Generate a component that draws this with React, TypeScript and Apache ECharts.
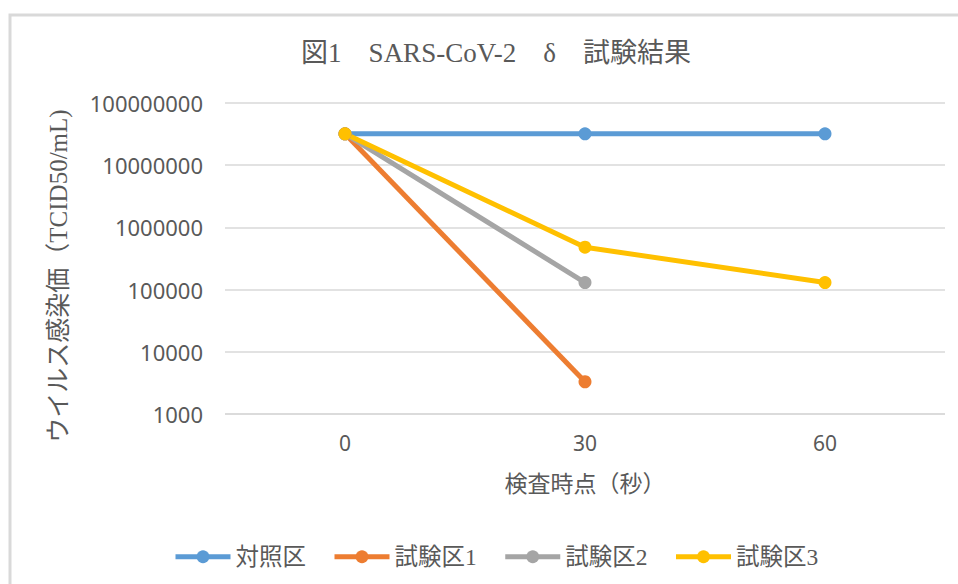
import React, { useEffect, useRef } from "react";
import * as echarts from "echarts";

const categories = ["0", "30", "60"];
const seriesNames = ["対照区", "試験区1", "試験区2", "試験区3"];
const control = [32000000, 32000000, 32000000];
const test1 = [32000000, 3300, null];
const test2 = [32000000, 130000, null];
const test3 = [32000000, 480000, 130000];
const colors = ["#5B9BD5", "#ED7D31", "#A5A5A5", "#FFC000"];

const titleText = "図1　SARS-CoV-2　δ　試験結果";
const yName = "ウイルス感染価（TCID50/mL)";
const xName = "検査時点（秒）";

const SERIF = "'Liberation Serif', 'Noto Sans CJK JP', serif";
const SANS = "'Noto Sans', 'Liberation Sans', sans-serif";
const TXT = "#595959";

export default function App() {
  const ref = useRef<HTMLDivElement>(null);
  useEffect(() => {
    if (!ref.current) return;
    const chart = echarts.init(ref.current, undefined, { renderer: "svg" });
    const data = [control, test1, test2, test3];
    chart.setOption({
      animation: false,
      backgroundColor: "#ffffff",
      graphic: [
        {
          type: "rect",
          shape: { x: 10, y: 15, width: 980, height: 620 },
          style: { fill: "none", stroke: "#d9d9d9", lineWidth: 3 },
          silent: true,
        },
        {
          type: "text",
          x: 58,
          y: 276,
          rotation: Math.PI / 2,
          style: {
            text: yName,
            font: `25px ${SERIF}`,
            fill: TXT,
            align: "center",
            verticalAlign: "middle",
          },
        },
      ],
      title: {
        text: titleText,
        left: 491,
        top: 34,
        textAlign: "center",
        textStyle: { fontFamily: SERIF, fontSize: 27, fontWeight: "normal", color: TXT },
      },
      grid: { left: 225, right: 13, top: 103, bottom: 170, containLabel: false },
      legend: {
        left: 168,
        top: 540,
        itemWidth: 55,
        itemHeight: 16,
        itemGap: 26,
        data: seriesNames,
        lineStyle: { width: 5 },
        textStyle: { fontFamily: SERIF, fontSize: 23.5, color: TXT },
      },
      xAxis: {
        type: "category",
        data: categories,
        boundaryGap: true,
        axisLine: { show: false },
        axisTick: { show: false },
        axisLabel: { fontFamily: SANS, fontSize: 21, color: TXT, margin: 18 },
        name: xName,
        nameLocation: "middle",
        nameGap: 59,
        nameTextStyle: { fontFamily: SERIF, fontSize: 23, color: TXT },
      },
      yAxis: {
        type: "log",
        logBase: 10,
        min: 1000,
        max: 100000000,
        axisLine: { show: false },
        axisTick: { show: false },
        axisLabel: {
          fontFamily: SANS,
          fontSize: 22,
          color: TXT,
          margin: 22,
          formatter: (v: number) => String(Math.round(v)),
        },
        splitLine: { lineStyle: { color: "#d9d9d9", width: 1.5 } },
      },
      series: seriesNames.map((name, i) => ({
        name,
        type: "line",
        data: data[i],
        color: colors[i],
        symbol: "circle",
        symbolSize: 13,
        lineStyle: { width: 5, color: colors[i] },
        itemStyle: { color: colors[i] },
        connectNulls: false,
      })),
    });
    return () => chart.dispose();
  }, []);
  return (
    <div
      ref={ref}
      style={{ position: "fixed", left: 0, top: 0, width: 958, height: 584 }}
    />
  );
}
